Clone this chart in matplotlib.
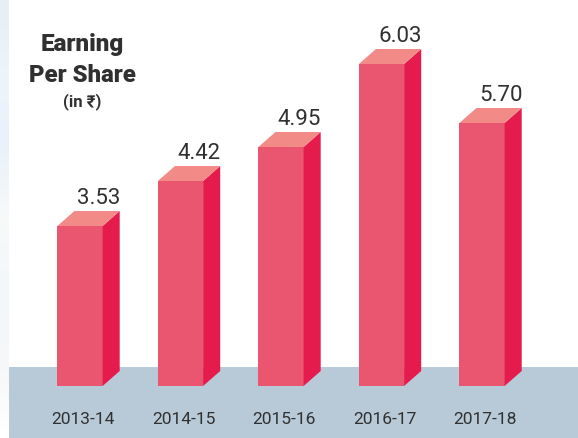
import matplotlib
matplotlib.use("Agg")
import matplotlib.pyplot as plt
from matplotlib.colors import LinearSegmentedColormap
from matplotlib.patches import Polygon, Rectangle

years = ["2013-14", "2014-15", "2015-16", "2016-17", "2017-18"]
eps_labels = ["3.53", "4.42", "4.95", "6.03", "5.70"]
# the bars in the picture are not to scale with the labels, so heights are read separately
drawn_heights = [160, 205, 239, 322, 263]

FRONT = "#ea5570"
SIDE = "#e61b4d"
TOP = "#f28a88"
FLOOR = "#b8cad8"
TEXT = "#303030"
STRIP = ["#ffffff", "#f6f7f8", "#f2f7fb", "#f8faf9", "#e9f1fa", "#eef4fc", "#e6eef6"]
STEP = 100.5


def draw_bar(ax, x, height, width=0.45, dx=0.17, dy=15):
    left, right = x - width / 2, x + width / 2
    ax.bar(x, height, width=width, color=FRONT, zorder=3)
    ax.add_patch(Polygon([(right, 0), (right + dx, dy), (right + dx, height + dy), (right, height)],
                         color=SIDE, lw=0, zorder=3))
    ax.add_patch(Polygon([(left, height), (left + dx, height + dy), (right + dx, height + dy), (right, height)],
                         color=TOP, lw=0, zorder=3))


def main():
    plt.rcParams["font.family"] = ["Roboto", "DejaVu Sans"]
    fig = plt.figure(figsize=(5.78, 4.38), dpi=100)
    ax = fig.add_axes([0, 0, 1, 1])
    x_min, x_max = -80 / STEP, 498 / STEP
    strip_right = -71 / STEP

    # pale strip on the left and the floor band
    cmap = LinearSegmentedColormap.from_list("strip", STRIP)
    ax.imshow([[i] for i in range(64, -1, -1)], cmap=cmap, aspect="auto", zorder=1,
              extent=(x_min, strip_right, -52, 386))
    ax.add_patch(Rectangle((strip_right, -52), x_max - strip_right, 71, color=FLOOR, lw=0, zorder=2))

    for i, (height, label) in enumerate(zip(drawn_heights, eps_labels)):
        draw_bar(ax, i, height)
        ax.text(i + 0.185, height + 17, label, ha="center", va="bottom", fontsize=16, color=TEXT, zorder=4)
        ax.text(i + 0.03, -34, years[i], ha="center", va="center", fontsize=12.5, color=TEXT, zorder=4)

    ax.set_xlim(x_min, x_max)
    ax.set_ylim(-52, 386)
    ax.axis("off")

    fig.text(82 / 578, 1 - 45 / 438, "Earning", ha="center", va="center", fontsize=17.5, fontweight="black", color=TEXT)
    fig.text(82 / 578, 1 - 75 / 438, "Per Share", ha="center", va="center", fontsize=17.2, fontweight="black", color=TEXT)
    fig.text(82 / 578, 1 - 102 / 438, "(in ₹)", ha="center", va="center", fontsize=12, fontweight="bold", color=TEXT)

    fig.savefig("out.png", dpi=100)


if __name__ == "__main__":
    main()
